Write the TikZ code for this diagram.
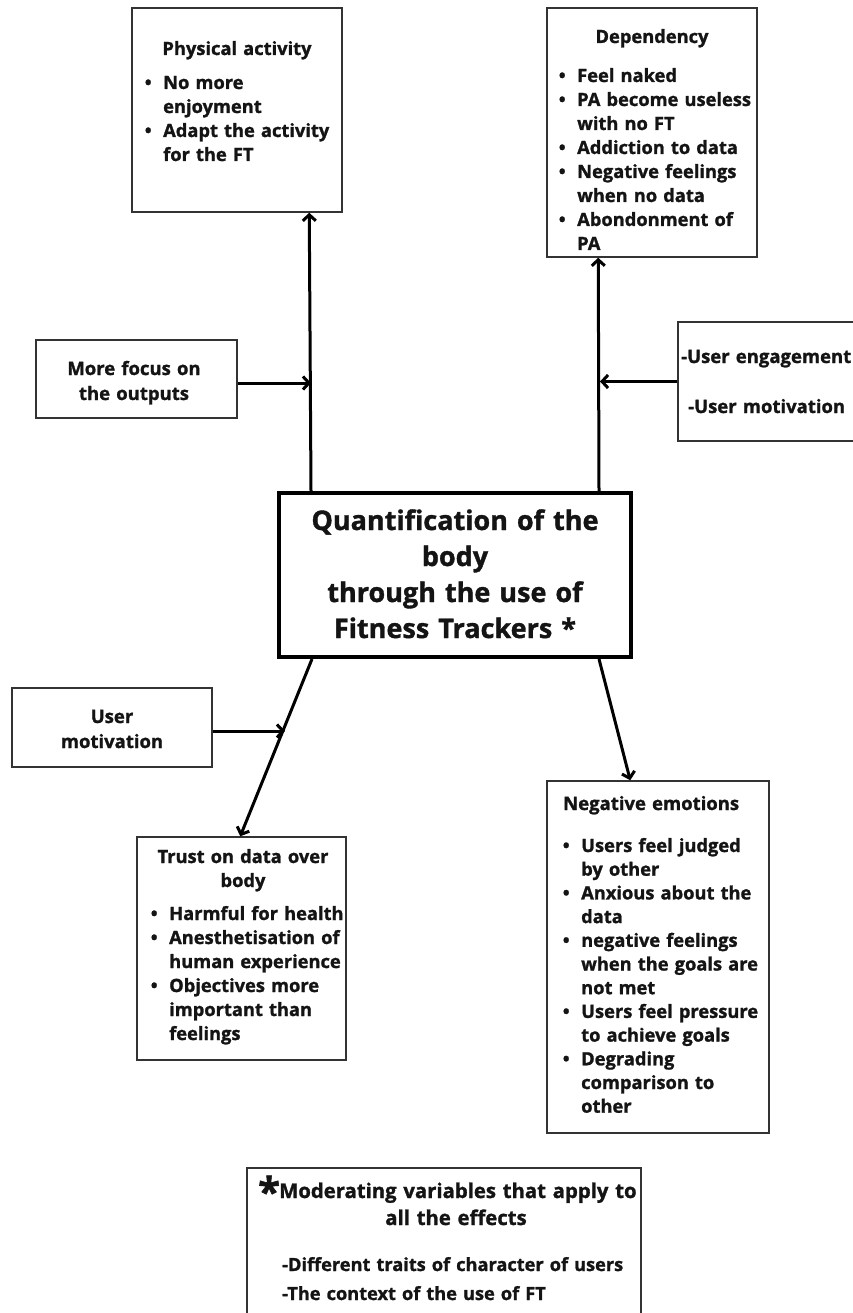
\documentclass[tikz,border=0pt]{standalone}
\usepackage{fontspec}
\setmainfont{Open Sans}[BoldFeatures={FakeBold=1.3}]
\usetikzlibrary{arrows.meta}
\newcommand\lf{\fontsize{18.3}{24}\selectfont\bfseries}
\newcommand\mf{\fontsize{18.5}{25}\selectfont\bfseries}
\newcommand\myb{\makebox[15pt][l]{\makebox[0pt][c]{•}}}
\newcommand\myi{\makebox[15pt][l]{}}
\tikzset{
  box/.style={draw=black!80, line width=1.5pt, inner sep=0pt, fill=none},
  cbox/.style={draw=black, line width=4pt, inner sep=0pt},
  conn/.style={-{Straight Barb[length=6pt,width=13pt]}, line width=3pt, black},
  lst/.style={anchor=base west, inner sep=0pt, text width=400pt, align=left, font=\lf, text=black!92},
  ttl/.style={anchor=base, inner sep=0pt, text width=300pt, align=center, font=\lf, text=black!92},
}
\begin{document}
\begin{tikzpicture}[x=1pt,y=-1pt]
\useasboundingbox (0,0) rectangle (853,1313);
% boxes
\node[box, minimum width=210pt, minimum height=204pt] (pa) at (237,110) {};
\node[box, minimum width=210pt, minimum height=249pt] (dep) at (652,132.5) {};
\node[box, minimum width=201pt, minimum height=78pt] (mfo) at (136.5,379) {};
\node[box, minimum width=200pt, minimum height=119pt] (ue) at (778,381.5) {};
\node[cbox, minimum width=352pt, minimum height=164pt] (cen) at (455,575) {};
\node[box, minimum width=200pt, minimum height=79pt] (um) at (112,727.5) {};
\node[box, minimum width=209pt, minimum height=223pt] (tr) at (241.5,948.5) {};
\node[box, minimum width=222pt, minimum height=352pt] (neg) at (658,957) {};
\node[box, minimum width=394pt, minimum height=170pt] (mod) at (444,1253) {};
% texts
\node[ttl] (pat) at (237,55) {Physical activity};
\node[lst] (pal) at (148,89) {\myb No more\\\myi enjoyment\\\myb Adapt the activity\\\myi for the FT};
\node[ttl] (dept) at (652,43) {Dependency};
\node[lst] (depl) at (562,82) {\myb Feel naked\\\myb PA become useless\\\myi with no FT\\\myb Addiction to data\\\myb Negative feelings\\\myi when no data\\\myb Abondonment of\\\myi PA};
\node[ttl, font=\mf] (mfot) at (134,375) {More focus on\\the outputs};
\node[lst, font=\fontsize{18.5}{50}\selectfont\bfseries] (uet) at (681,363) {-User engagement\\\hspace*{7pt}-User motivation};
\node[ttl, font=\fontsize{27}{36}\selectfont\bfseries, text width=340pt] (cent) at (455,530) {Quantification of the\\body\\through the use of\\Fitness Trackers *};
\node[ttl, font=\mf] (umt) at (112,723) {User\\motivation};
\node[ttl] (trt) at (243,863) {Trust on data over\\body};
\node[lst] (trl) at (154,920) {\myb Harmful for health\\\myb Anesthetisation of\\\myi human experience\\\myb Objectives more\\\myi important than\\\myi feelings};
\node[lst, font=\mf] (negt) at (563,810) {Negative emotions};
\node[lst, font=\fontsize{18.3}{23.7}\selectfont\bfseries] (negl) at (566,852) {\myb Users feel judged\\\myi by other\\\myb Anxious about the\\\myi data\\\myb negative feelings\\\myi when the goals are\\\myi not met\\\myb Users feel pressure\\\myi to achieve goals\\\myb Degrading\\\myi comparison to\\\myi other};
\node[lst, font=\fontsize{40}{40}\selectfont\bfseries] (star) at (258,1206) {*};
\node[lst, font=\fontsize{20.3}{27}\selectfont\bfseries] (modt) at (279,1198) {Moderating variables that apply to};
\node[ttl, font=\fontsize{20.3}{27}\selectfont\bfseries] (modt2) at (456,1225) {all the effects};
\node[lst, font=\fontsize{18.2}{29}\selectfont\bfseries] (modl) at (282,1271) {-Different traits of character of users\\-The context of the use of FT};
% junctions
\coordinate (j1) at (311,383);
\coordinate (j2) at (600,381.5);
\coordinate (j3) at (285,731);
% connectors
\draw[conn] ([xshift=34pt]cen.north west) -- ([xshift=178pt]pa.south west);
\draw[conn] ([xshift=322pt]cen.north west) -- ([xshift=52pt]dep.south west);
\draw[conn] ([xshift=35pt]cen.south west) -- ([xshift=104pt]tr.north west);
\draw[conn] ([xshift=322pt]cen.south west) -- ([xshift=84pt]neg.north west);
\draw[conn] ([yshift=-4pt]mfo.east) -- (j1);
\draw[conn] (ue.west) -- (j2);
\draw[conn] ([yshift=-3.5pt]um.east) -- (j3);
\end{tikzpicture}
\end{document}
